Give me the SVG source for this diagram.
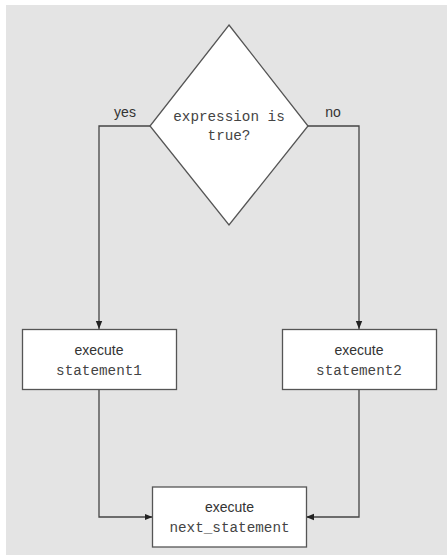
<svg xmlns="http://www.w3.org/2000/svg" width="447" height="555" viewBox="0 0 447 555">
<defs>
<marker id="arr" viewBox="0 0 8 8" refX="8" refY="4" markerWidth="8" markerHeight="8" markerUnits="userSpaceOnUse" orient="auto">
<path d="M0,0.8 L8,4 L0,7.2 Z" fill="#222"/>
</marker>
<style>
.shape{fill:#fff;stroke:#555;stroke-width:1.3}
.edge{fill:none;stroke:#444;stroke-width:1.3}
.sans{font-family:"Liberation Sans Narrow","Liberation Sans",Arial,sans-serif;font-size:14px;fill:#333;text-anchor:middle}
.mono{font-family:"Liberation Mono","Courier New",monospace;font-size:14.3px;fill:#444;text-anchor:middle}
</style>
</defs>
<rect x="0" y="0" width="447" height="555" fill="#fff"/>
<rect x="6" y="5" width="441" height="550" fill="#e4e4e4"/>
<g id="connectors">
<path class="edge" d="M150,126 H99 V329" marker-end="url(#arr)"/>
<path class="edge" d="M308,126 H359 V329" marker-end="url(#arr)"/>
<path class="edge" d="M99,389 V517 H152.5" marker-end="url(#arr)"/>
<path class="edge" d="M359,389 V517 H306" marker-end="url(#arr)"/>
<text class="sans" x="125" y="117">yes</text>
<text class="sans" x="333" y="117">no</text>
</g>
<g id="decision">
<polygon class="shape" points="229,25 308,126 229,225 150,126"/>
<text class="mono" x="229" y="121">expression is</text>
<text class="mono" x="229" y="140">true?</text>
</g>
<g id="statement1">
<rect class="shape" x="22.5" y="329.5" width="154" height="60"/>
<text class="sans" x="99" y="355">execute</text>
<text class="mono" x="99" y="375">statement1</text>
</g>
<g id="statement2">
<rect class="shape" x="282.5" y="329.5" width="154" height="60"/>
<text class="sans" x="359" y="355">execute</text>
<text class="mono" x="359" y="375">statement2</text>
</g>
<g id="next_statement">
<rect class="shape" x="152.5" y="487" width="154" height="60"/>
<text class="sans" x="229.5" y="512">execute</text>
<text class="mono" x="229.5" y="532">next_statement</text>
</g>
</svg>
